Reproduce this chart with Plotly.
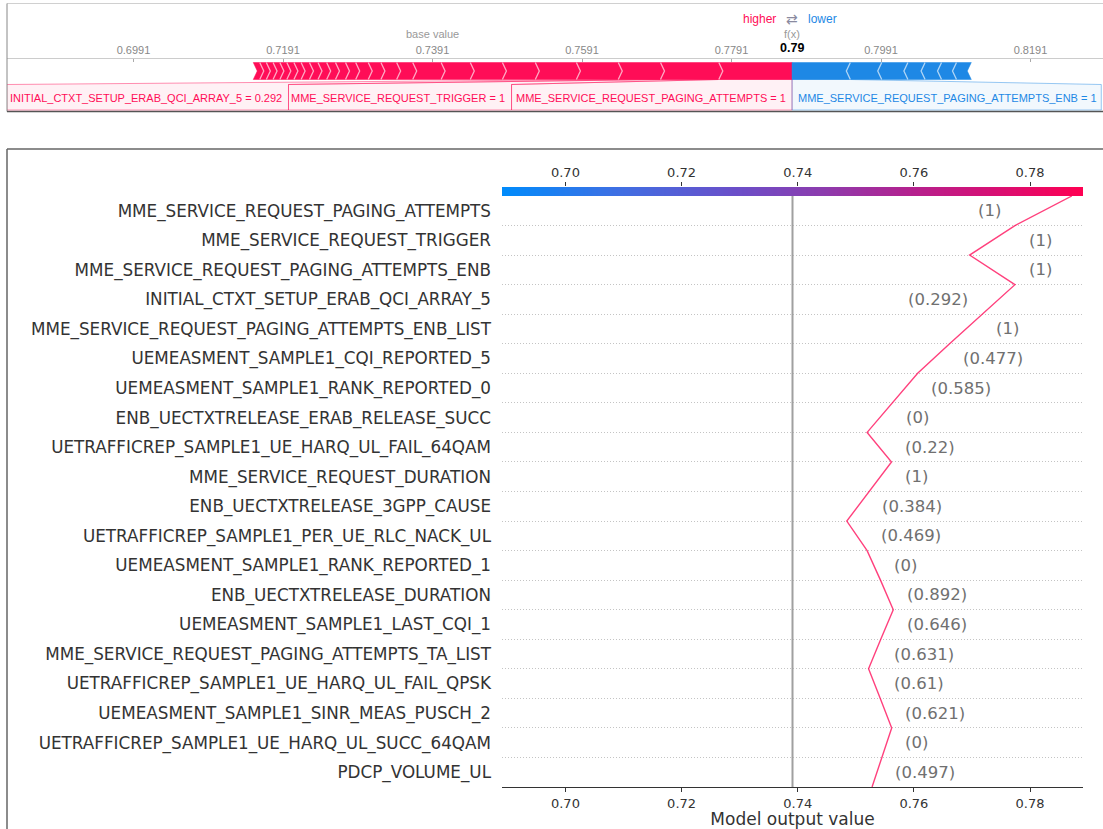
import numpy as np
import plotly.graph_objects as go

W, H = 1103, 829

# ------------------------------------------------------------------ data
base_value = 0.7391

feature_names = [
    "MME_SERVICE_REQUEST_PAGING_ATTEMPTS",
    "MME_SERVICE_REQUEST_TRIGGER",
    "MME_SERVICE_REQUEST_PAGING_ATTEMPTS_ENB",
    "INITIAL_CTXT_SETUP_ERAB_QCI_ARRAY_5",
    "MME_SERVICE_REQUEST_PAGING_ATTEMPTS_ENB_LIST",
    "UEMEASMENT_SAMPLE1_CQI_REPORTED_5",
    "UEMEASMENT_SAMPLE1_RANK_REPORTED_0",
    "ENB_UECTXTRELEASE_ERAB_RELEASE_SUCC",
    "UETRAFFICREP_SAMPLE1_UE_HARQ_UL_FAIL_64QAM",
    "MME_SERVICE_REQUEST_DURATION",
    "ENB_UECTXTRELEASE_3GPP_CAUSE",
    "UETRAFFICREP_SAMPLE1_PER_UE_RLC_NACK_UL",
    "UEMEASMENT_SAMPLE1_RANK_REPORTED_1",
    "ENB_UECTXTRELEASE_DURATION",
    "UEMEASMENT_SAMPLE1_LAST_CQI_1",
    "MME_SERVICE_REQUEST_PAGING_ATTEMPTS_TA_LIST",
    "UETRAFFICREP_SAMPLE1_UE_HARQ_UL_FAIL_QPSK",
    "UEMEASMENT_SAMPLE1_SINR_MEAS_PUSCH_2",
    "UETRAFFICREP_SAMPLE1_UE_HARQ_UL_SUCC_64QAM",
    "PDCP_VOLUME_UL",
]
feature_values = ["1", "1", "1", "0.292", "1", "0.477", "0.585", "0", "0.22", "1",
                  "0.384", "0.469", "0", "0.892", "0.646", "0.631", "0.61", "0.621",
                  "0", "0.497"]
shap_values = [0.0098, 0.0078, -0.0078, 0.00565, 0.0056, 0.0055, 0.0044, 0.0043,
               -0.0042, 0.0039, 0.0038, -0.0035, -0.0023, -0.0022, 0.00215, 0.0021,
               -0.0020, -0.00198, 0.0017, 0.00168]
# remaining features, not listed by name in the decision plot
other_shap_values = [0.00136, 0.00134, 0.00118, 0.00112, 0.00114, 0.00116, 0.0009,
                     0.00093, 0.00096, 0.00088, 0.00091, 0.00095, 0.00087]

force_tick_values = [0.6991, 0.7191, 0.7391, 0.7591, 0.7791, 0.7991, 0.8191]
decision_tick_values = [0.70, 0.72, 0.74, 0.76, 0.78]

# ------------------------------------------------------------------ styles
RED, BLUE = "#ff0d57", "#1e88e5"
FORCE_FONT = "Liberation Sans, Arial, sans-serif"
DEC_FONT = "DejaVu Sans, sans-serif"

ARIAL_EM = dict(zip("ABCDEFGHIJKLMNOPQRSTUVWXYZ",
                    [.667, .667, .722, .722, .667, .611, .778, .722, .278, .5, .667, .556, .833,
                     .722, .778, .667, .778, .722, .667, .611, .722, .667, .944, .667, .667, .611]))
ARIAL_EM.update({c: .556 for c in "0123456789"})
ARIAL_EM.update({"_": .556, " ": .278, "=": .584, ".": .278})

DEJAVU_EM = dict(zip("ABCDEFGHIJKLMNOPQRSTUVWXYZ",
                     [.684, .686, .698, .770, .632, .575, .775, .752, .295, .295, .656, .557, .863,
                      .748, .787, .603, .787, .695, .635, .611, .732, .684, .989, .685, .611, .685]))
DEJAVU_EM.update({c: .636 for c in "0123456789"})
DEJAVU_EM.update({"_": .5, "(": .39, ")": .39, ".": .318, " ": .318})


def text_width(s, table, size):
    return size * sum(table.get(c, 0.6) for c in s)


def py(y_px):
    return 1 - y_px / H


fig = go.Figure()

# ================================================================== force plot
FP_X0, FP_BASE_PX, FP_SCALE = 7.0, 432.5, 7475.0   # px per output unit
xf_range = [base_value - (FP_BASE_PX - FP_X0) / FP_SCALE,
            base_value + (W - FP_BASE_PX) / FP_SCALE]


def f_px(v):
    return FP_X0 + (v - xf_range[0]) * FP_SCALE


def f_val(px):
    return xf_range[0] + (px - FP_X0) / FP_SCALE


BAR_TOP, BAR_MID, BAR_BOT = 62.5, 71.0, 79.5
LAB_TOP, LAB_BOT, LAB_Y, LAB_PAD, LAB_SIZE = 84.5, 110.0, 98.0, 4.4, 11
ARROW = 4.0 / FP_SCALE

effects = [(n, v, s) for n, v, s in zip(feature_names, feature_values, shap_values)]
effects += [("", "", s) for s in other_shap_values]
fx = base_value + sum(e[2] for e in effects)

pos = sorted([e for e in effects if e[2] > 0], key=lambda e: -e[2])
neg = sorted([e for e in effects if e[2] < 0], key=lambda e: e[2])

annotations = []


def connector(seg, box, color_rgba_fill, color_rgba_line):
    sx0, sx1 = seg
    bx0, bx1 = box
    fig.add_trace(go.Scatter(
        x=[sx0, sx1, bx1, bx1, bx0, bx0, sx0],
        y=[BAR_BOT, BAR_BOT, LAB_TOP, LAB_BOT, LAB_BOT, LAB_TOP, BAR_BOT],
        mode="lines", fill="toself", fillcolor=color_rgba_fill,
        line=dict(color=color_rgba_line, width=1), hoverinfo="skip",
        showlegend=False, xaxis="x", yaxis="y"))


# segments (positive: to the left of f(x); negative: to the right)
red_segs, blue_segs = [], []
right = fx
for e in pos:
    red_segs.append((right - e[2], right))
    right -= e[2]
left = fx
for e in neg:
    blue_segs.append((left, left - e[2]))
    left -= e[2]

# labels + connectors
cursor = f_px(fx)
for e, seg in zip(pos, red_segs):
    if not e[0]:
        break
    txt = f"{e[0]} = {e[1]}"
    w = text_width(txt, ARIAL_EM, LAB_SIZE) + 2 * LAB_PAD
    if cursor - w < 0:
        break
    connector(seg, (f_val(cursor - w), f_val(cursor)),
              "rgba(255,13,87,0.06)", "rgba(255,13,87,0.45)")
    annotations.append(dict(x=f_val(cursor - LAB_PAD), y=LAB_Y, xref="x", yref="y",
                            text=txt, showarrow=False, xanchor="right", yanchor="middle",
                            font=dict(family=FORCE_FONT, size=LAB_SIZE, color=RED)))
    cursor -= w

cursor = f_px(fx)
for e, seg in zip(neg, blue_segs):
    if not e[0]:
        break
    txt = f"{e[0]} = {e[1]}"
    w = text_width(txt, ARIAL_EM, LAB_SIZE) + 2 * LAB_PAD
    if cursor + w > W:
        break
    connector(seg, (f_val(cursor), f_val(cursor + w)),
              "rgba(30,136,229,0.06)", "rgba(30,136,229,0.45)")
    annotations.append(dict(x=f_val(cursor + LAB_PAD), y=LAB_Y, xref="x", yref="y",
                            text=txt, showarrow=False, xanchor="left", yanchor="middle",
                            font=dict(family=FORCE_FONT, size=LAB_SIZE, color=BLUE)))
    cursor += w

# arrow blocks
rx, ry, sx, sy = [], [], [], []
for i, (x0, x1) in enumerate(red_segs):
    tip = 0 if i == 0 else ARROW
    rx += [x0, x1, x1 + tip, x1, x0, x0 + ARROW, x0, None]
    ry += [BAR_TOP, BAR_TOP, BAR_MID, BAR_BOT, BAR_BOT, BAR_MID, BAR_TOP, None]
    if i > 0:
        sx += [x1, x1 + ARROW, x1, None]
        sy += [BAR_TOP, BAR_MID, BAR_BOT, None]
bx, by, bsx, bsy = [], [], [], []
for i, (x0, x1) in enumerate(blue_segs):
    tip = 0 if i == 0 else ARROW
    bx += [x0, x1, x1 - ARROW, x1, x0, x0 - tip, x0, None]
    by += [BAR_TOP, BAR_TOP, BAR_MID, BAR_BOT, BAR_BOT, BAR_MID, BAR_TOP, None]
    if i > 0:
        bsx += [x0, x0 - ARROW, x0, None]
        bsy += [BAR_TOP, BAR_MID, BAR_BOT, None]

for xs, ys, col in [(rx, ry, RED), (bx, by, BLUE)]:
    fig.add_trace(go.Scatter(x=xs, y=ys, mode="lines", fill="toself", fillcolor=col,
                             line=dict(color=col, width=0.5), hoverinfo="skip",
                             showlegend=False, xaxis="x", yaxis="y"))
for xs, ys in [(sx, sy), (bsx, bsy)]:
    fig.add_trace(go.Scatter(x=xs, y=ys, mode="lines",
                             line=dict(color="rgba(255,255,255,0.65)", width=1.3),
                             hoverinfo="skip", showlegend=False, xaxis="x", yaxis="y"))

fx_px = f_px(fx)
annotations += [
    dict(x=f_val(fx_px - 14), y=py(19), xref="x", yref="paper", text="higher",
         showarrow=False, xanchor="right", yanchor="middle",
         font=dict(family=FORCE_FONT, size=12, color=RED)),
    dict(x=fx, y=py(19), xref="x", yref="paper", text="⇄",
         showarrow=False, xanchor="center", yanchor="middle",
         font=dict(family=DEC_FONT, size=14, color="#8a8aa0")),
    dict(x=f_val(fx_px + 14), y=py(19), xref="x", yref="paper", text="lower",
         showarrow=False, xanchor="left", yanchor="middle",
         font=dict(family=FORCE_FONT, size=12, color=BLUE)),
    dict(x=fx, y=py(34), xref="x", yref="paper", text="f(x)",
         showarrow=False, xanchor="center", yanchor="middle",
         font=dict(family=FORCE_FONT, size=11, color="#999999")),
    dict(x=fx, y=py(48), xref="x", yref="paper", text=f"<b>{fx:.2f}</b>",
         showarrow=False, xanchor="center", yanchor="middle",
         font=dict(family=FORCE_FONT, size=12.5, color="#000000")),
    dict(x=base_value, y=py(34), xref="x", yref="paper", text="base value",
         showarrow=False, xanchor="center", yanchor="middle",
         font=dict(family=FORCE_FONT, size=11, color="#999999")),
]

# ================================================================== decision plot
names_bu = feature_names[::-1]
vals_bu = np.array(shap_values[::-1])
fvals_bu = feature_values[::-1]
n = len(names_bu)

start = base_value + sum(other_shap_values)
cum = start + np.concatenate([[0.0], np.cumsum(vals_bu)])
half = 1.04 * np.max(np.abs(cum - base_value))
xr = [base_value - half, base_value + half]

D_X0, D_X1, D_Y_TOP, D_Y_BOT = 502, 1083, 196, 787
CB_TOP = 187
ppu = (D_X1 - D_X0) / (xr[1] - xr[0])
margin = 0.02 * (xr[1] - xr[0])
VAL_SIZE = 16.5

fig.add_trace(go.Scatter(x=cum, y=np.arange(n + 1), mode="lines",
                         line=dict(color="rgba(255,0,82,0.75)", width=1.4),
                         hoverinfo="skip", showlegend=False, xaxis="x2", yaxis="y2"))

for j in range(n):
    lo, hi = min(cum[j], cum[j + 1]), max(cum[j], cum[j + 1])
    txt = f"({fvals_bu[j]})"
    wdat = text_width(txt, DEJAVU_EM, VAL_SIZE) / ppu
    if hi + margin + wdat > xr[1]:
        xpos, anchor = lo - margin, "right"
    else:
        xpos, anchor = hi + margin, "left"
    annotations.append(dict(x=xpos, y=j + 0.5, xref="x2", yref="y2", text=txt,
                            showarrow=False, xanchor=anchor, yanchor="middle",
                            font=dict(family=DEC_FONT, size=VAL_SIZE, color="#707070")))

# colour bar along the top of the decision plot
cb_x = np.linspace(xr[0], xr[1], 300)
red_blue = [[0.0, "#008bfb"], [0.2, "#3f6fe3"], [0.4, "#6a4fc9"], [0.55, "#8c3cae"],
            [0.7, "#b3228f"], [0.85, "#d80f73"], [1.0, "#ff0052"]]
fig.add_trace(go.Heatmap(x=cb_x, y=[0, 1], z=[cb_x, cb_x], colorscale=red_blue,
                         zmin=xr[0], zmax=xr[1], showscale=False, hoverinfo="skip",
                         xaxis="x3", yaxis="y3"))

shapes = [
    # base value marker
    dict(type="line", xref="x2", yref="y2", x0=base_value, x1=base_value, y0=0, y1=n,
         line=dict(color="#a0a0a0", width=2)),
    # panel frames
    dict(type="line", xref="paper", yref="paper", x0=7 / W, x1=1, y0=py(3.5), y1=py(3.5),
         line=dict(color="#d0d0d0", width=1)),
    dict(type="line", xref="paper", yref="paper", x0=7 / W, x1=7 / W, y0=py(3.5), y1=py(111.5),
         line=dict(color="#888888", width=1)),
    dict(type="line", xref="paper", yref="paper", x0=7 / W, x1=1, y0=py(111.5), y1=py(111.5),
         line=dict(color="#555555", width=1.5)),
    dict(type="line", xref="paper", yref="paper", x0=7 / W, x1=1, y0=py(149), y1=py(149),
         line=dict(color="#666666", width=1.5)),
    dict(type="line", xref="paper", yref="paper", x0=7 / W, x1=7 / W, y0=py(149), y1=0,
         line=dict(color="#666666", width=1.5)),
]

fig.update_layout(
    width=W, height=H, margin=dict(l=0, r=0, t=0, b=0),
    paper_bgcolor="white", plot_bgcolor="rgba(0,0,0,0)",
    showlegend=False, annotations=annotations, shapes=shapes,
    xaxis=dict(domain=[FP_X0 / W, 1], anchor="y", side="top", range=xf_range,
               tickmode="array", tickvals=force_tick_values,
               ticktext=[f"{v:.4f}" for v in force_tick_values],
               ticks="inside", ticklen=3, tickcolor="#aaaaaa",
               showline=True, linecolor="#cccccc", linewidth=1,
               tickfont=dict(family=FORCE_FONT, size=11, color="#888888"),
               showgrid=False, zeroline=False, fixedrange=True),
    yaxis=dict(domain=[py(111), py(59)], anchor="x", range=[111, 59], visible=False,
               fixedrange=True),
    xaxis2=dict(domain=[D_X0 / W, D_X1 / W], anchor="y2", range=xr,
                tickmode="array", tickvals=decision_tick_values,
                ticktext=[f"{v:.2f}" for v in decision_tick_values],
                ticks="outside", ticklen=4, tickcolor="#333333",
                showline=True, linecolor="#333333", linewidth=1,
                tickfont=dict(family=DEC_FONT, size=13, color="#333333"),
                title=dict(text="Model output value", standoff=2,
                           font=dict(family=DEC_FONT, size=17, color="#333333")),
                showgrid=False, zeroline=False),
    yaxis2=dict(domain=[py(D_Y_BOT), py(D_Y_TOP)], anchor="x2", range=[0, n],
                tickmode="array", tickvals=[j + 0.5 for j in range(n)], ticktext=names_bu,
                ticks="", ticklabelstandoff=10,
                tickfont=dict(family=DEC_FONT, size=16.8, color="#333333"),
                showline=False, showgrid=False, zeroline=False,
                minor=dict(tickmode="linear", tick0=0, dtick=1, showgrid=True,
                           gridcolor="#c4c4c4", griddash="1px,2px", gridwidth=1, ticks="")),
    xaxis3=dict(domain=[D_X0 / W, D_X1 / W], anchor="y3", side="top", range=xr,
                tickmode="array", tickvals=decision_tick_values,
                ticktext=[f"{v:.2f}" for v in decision_tick_values],
                ticks="outside", ticklen=4, tickcolor="#333333",
                tickfont=dict(family=DEC_FONT, size=13, color="#333333"),
                showline=False, showgrid=False, zeroline=False),
    yaxis3=dict(domain=[py(D_Y_TOP), py(CB_TOP)], anchor="x3", range=[-0.5, 1.5],
                visible=False),
)

fig.write_html("out.html")
